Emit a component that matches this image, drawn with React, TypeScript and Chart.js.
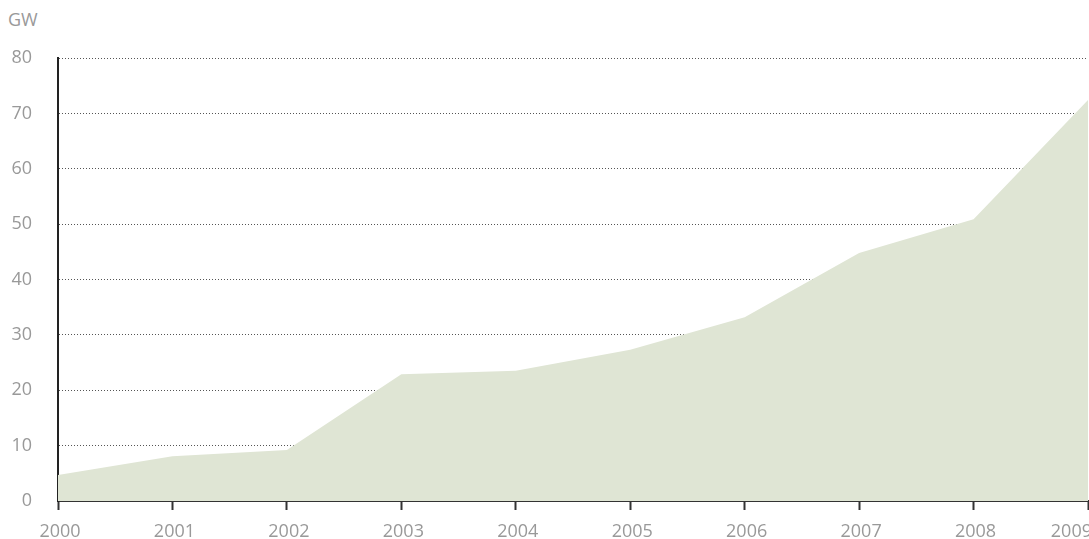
import React, { useEffect, useRef } from "react";
import { Chart, registerables } from "chart.js";

Chart.register(...registerables);

const years = ["2000", "2001", "2002", "2003", "2004", "2005", "2006", "2007", "2008", "2009"];
const capacityGW = [4.7, 8.1, 9.2, 22.9, 23.5, 27.3, 33.2, 44.8, 50.9, 72.4];
const unitLabel = "GW";

const FONT = "'Open Sans', 'DejaVu Sans', sans-serif";
const LABEL_COLOR = "#999999";
const FONT_SIZE = 18;

const xLabelsPlugin = {
  id: "xLabels",
  afterDraw(chart: any) {
    const ctx = chart.ctx as CanvasRenderingContext2D;
    const xs = chart.scales.x;
    const labels = chart.data.labels as string[];
    ctx.save();
    ctx.font = `400 ${FONT_SIZE}px ${FONT}`;
    ctx.fillStyle = LABEL_COLOR;
    ctx.textAlign = "center";
    ctx.textBaseline = "middle";
    const y = xs.bottom - 7;
    labels.forEach((lab, i) => {
      let x = xs.getPixelForValue(i);
      const w = ctx.measureText(lab).width;
      if (x + w / 2 > chart.width + 1) x = chart.width + 1 - w / 2;
      ctx.fillText(lab, x + 2, y);
    });
    ctx.restore();
  },
};

export default function App() {
  const canvasRef = useRef<HTMLCanvasElement | null>(null);

  useEffect(() => {
    if (!canvasRef.current) return;
    const chart = new Chart(canvasRef.current, {
      type: "line",
      data: {
        labels: years,
        datasets: [
          {
            data: capacityGW,
            fill: "origin",
            backgroundColor: "#dfe5d4",
            borderWidth: 0,
            pointRadius: 0,
            tension: 0,
          },
        ],
      },
      options: {
        animation: false,
        responsive: true,
        maintainAspectRatio: false,
        layout: { padding: { top: 58, left: 0, right: 1, bottom: 0 } },
        plugins: { legend: { display: false }, tooltip: { enabled: false }, title: { display: false } },
        scales: {
          x: {
            offset: false,
            afterFit(scale: any) {
              scale.height = 38;
            },
            grid: {
              display: true,
              drawOnChartArea: false,
              drawTicks: true,
              tickLength: 9,
              tickWidth: 2,
              tickColor: "#333",
            },
            border: { display: true, color: "#333", width: 2 },
            ticks: {
              display: false,
              autoSkip: false,
            },
          },
          y: {
            min: 0,
            max: 80,
            z: 1,
            afterFit(scale: any) {
              scale.width = 58;
            },
            grid: {
              drawTicks: false,
              color: "#555",
              lineWidth: 1,
            },
            border: { display: true, color: "#222", width: 2, dash: [1, 2] },
            ticks: {
              stepSize: 10,
              color: LABEL_COLOR,
              font: { family: FONT, size: FONT_SIZE, weight: 400 },
              padding: 26,
            },
          },
        },
      },
      plugins: [xLabelsPlugin],
    });
    return () => chart.destroy();
  }, []);

  return (
    <div style={{ position: "absolute", left: 0, top: 0, width: 1089, height: 539, overflow: "hidden", background: "#fff" }}>
      <div
        style={{
          position: "absolute",
          left: 8,
          top: 7,
          fontFamily: FONT,
          fontWeight: 400,
          fontSize: FONT_SIZE,
          lineHeight: 1.36,
          color: LABEL_COLOR,
        }}
      >
        {unitLabel}
      </div>
      <div style={{ position: "absolute", left: 0, top: 0, width: 1089, height: 539 }}>
        <canvas ref={canvasRef} />
      </div>
    </div>
  );
}
